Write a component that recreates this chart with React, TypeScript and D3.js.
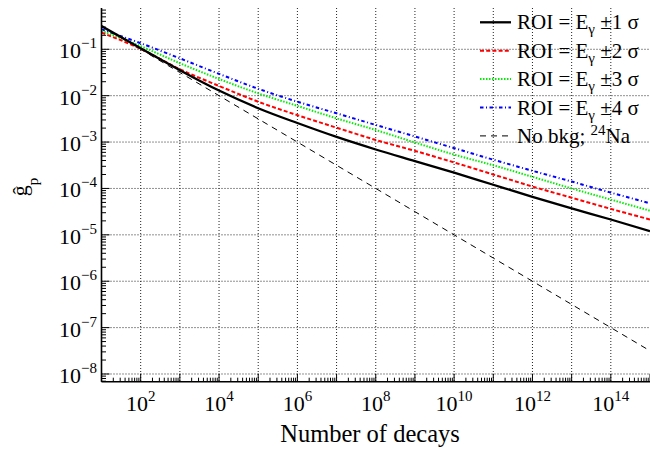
import { useEffect, useRef } from "react";
import * as d3 from "d3";

// number of decays, one point per decade
const decays = [1e1, 1e2, 1e3, 1e4, 1e5, 1e6, 1e7, 1e8, 1e9, 1e10, 1e11, 1e12, 1e13, 1e14, 1e15];

// g_p
const roi1 = [3.16e-1, 1.05e-1, 3.55e-2, 1.29e-2, 5.37e-3, 2.57e-3, 1.29e-3, 6.92e-4, 3.89e-4, 2.19e-4, 1.2e-4, 6.61e-5, 3.72e-5, 2.14e-5, 1.2e-5];
const roi2 = [2.29e-1, 1.02e-1, 3.72e-2, 1.62e-2, 7.41e-3, 3.8e-3, 2.04e-3, 1.11e-3, 6.46e-4, 3.63e-4, 2.0e-4, 1.1e-4, 6.31e-5, 3.63e-5, 2.14e-5];
const roi3 = [2.51e-1, 1.17e-1, 5.01e-2, 2.29e-2, 1.12e-2, 6.03e-3, 3.24e-3, 1.82e-3, 9.77e-4, 5.37e-4, 3.16e-4, 1.78e-4, 1.0e-4, 5.75e-5, 3.31e-5];
const roi4 = [2.69e-1, 1.35e-1, 6.38e-2, 2.95e-2, 1.41e-2, 7.41e-3, 4.17e-3, 2.34e-3, 1.32e-3, 7.41e-4, 4.17e-4, 2.4e-4, 1.41e-4, 8.13e-5, 4.79e-5];
const noBkg = [3.16e-1, 1e-1, 3.16e-2, 1e-2, 3.16e-3, 1e-3, 3.16e-4, 1e-4, 3.16e-5, 1e-5, 3.16e-6, 1e-6, 3.16e-7, 1e-7, 3.16e-8];

const xLabelExps = [2, 4, 6, 8, 10, 12, 14];
const yLabelExps = [-1, -2, -3, -4, -5, -6, -7, -8];
const sigmas = ["1", "2", "3", "4"];

const W = 650;
const H = 449;
const left = 101.5;
const right = 650;
const top = 8;
const bottom = 381.7;
const FONT = '"Liberation Serif", "Tinos", "DejaVu Serif", "Noto Serif", serif';

const series = [
  { values: roi1, color: "#000000", width: 2.3, dash: "" },
  { values: roi2, color: "#ff0000", width: 2, dash: "4,2.2" },
  { values: roi3, color: "#00ee00", width: 2, dash: "1.5,1.5" },
  { values: roi4, color: "#0000ff", width: 2, dash: "3.5,2.5,1,2.5" },
  { values: noBkg, color: "#000000", width: 1, dash: "6,5" },
];

const App = () => {
  const ref = useRef<SVGSVGElement>(null);

  useEffect(() => {
    const svg = d3.select(ref.current);
    svg.selectAll("*").remove();

    const x = d3.scaleLog().domain([10, 1e15]).range([left, right]);
    const y = d3.scaleLog().domain([Math.pow(10, -8.166), Math.pow(10, -0.11)]).range([bottom, top]);

    svg.append("clipPath").attr("id", "plot-clip")
      .append("rect")
      .attr("x", left).attr("y", top)
      .attr("width", right - left).attr("height", bottom - top);

    // grid
    const grid = svg.append("g")
      .attr("stroke", "#222")
      .attr("stroke-width", 1)
      .attr("stroke-dasharray", "1,2");
    for (let k = 2; k <= 14; k++) {
      grid.append("line")
        .attr("x1", x(Math.pow(10, k))).attr("x2", x(Math.pow(10, k)))
        .attr("y1", top).attr("y2", bottom);
    }
    for (let k = -8; k <= -1; k++) {
      grid.append("line")
        .attr("x1", left).attr("x2", right)
        .attr("y1", y(Math.pow(10, k))).attr("y2", y(Math.pow(10, k)));
    }

    // curves
    const line = d3.line<number>()
      .x((_, i) => x(decays[i]))
      .y((d) => y(d))
      .curve(d3.curveMonotoneX);

    const curves = svg.append("g").attr("clip-path", "url(#plot-clip)");
    series.slice().reverse().forEach((s) => {
      curves.append("path")
        .attr("d", line(s.values))
        .attr("fill", "none")
        .attr("stroke", s.color)
        .attr("stroke-width", s.width)
        .attr("stroke-dasharray", s.dash || null);
    });

    // axes
    const axes = svg.append("g").attr("stroke", "#000");
    axes.append("line").attr("x1", left).attr("x2", left).attr("y1", top).attr("y2", bottom).attr("stroke-width", 1.6);
    axes.append("line").attr("x1", left).attr("x2", right).attr("y1", bottom).attr("y2", bottom).attr("stroke-width", 1.6);

    for (let k = 1; k <= 15; k++) {
      const xv = x(Math.pow(10, k));
      axes.append("line").attr("x1", xv).attr("x2", xv).attr("y1", bottom).attr("y2", bottom - 8).attr("stroke-width", 1);
      for (let m = 2; m <= 9 && k < 15; m++) {
        const xm = x(m * Math.pow(10, k));
        axes.append("line").attr("x1", xm).attr("x2", xm).attr("y1", bottom).attr("y2", bottom - 4).attr("stroke-width", 1);
      }
    }
    const [y0, y1] = y.domain();
    for (let k = -9; k <= -1; k++) {
      const p = Math.pow(10, k);
      if (p >= y0 && p <= y1) {
        axes.append("line").attr("x1", left).attr("x2", left + 8).attr("y1", y(p)).attr("y2", y(p)).attr("stroke-width", 1);
      }
      for (let m = 2; m <= 9; m++) {
        const v = m * p;
        if (v < y0 || v > y1) continue;
        axes.append("line").attr("x1", left).attr("x2", left + 4.5).attr("y1", y(v)).attr("y2", y(v)).attr("stroke-width", 1);
      }
    }

    // tick labels
    const labels = svg.append("g").attr("fill", "#000");
    xLabelExps.forEach((e) => {
      const t = labels.append("text")
        .style("font-family", FONT)
        .attr("x", x(Math.pow(10, e)))
        .attr("y", 411)
        .attr("text-anchor", "middle")
        .attr("font-size", 22);
      t.append("tspan").text("10");
      t.append("tspan").attr("dy", -10).attr("font-size", 15).text(String(e));
    });
    yLabelExps.forEach((e) => {
      const t = labels.append("text")
        .style("font-family", FONT)
        .attr("x", 97)
        .attr("y", y(Math.pow(10, e)) + 9)
        .attr("text-anchor", "end")
        .attr("font-size", 22);
      t.append("tspan").text("10");
      t.append("tspan").attr("dy", -10).attr("font-size", 15).text("\u2212" + Math.abs(e));
    });

    // axis titles
    labels.append("text")
      .style("font-family", FONT)
      .attr("x", 370).attr("y", 442)
      .attr("text-anchor", "middle")
      .attr("font-size", 24.5)
      .text("Number of decays");

    const yt = labels.append("text")
      .style("font-family", FONT)
      .attr("transform", "translate(27,187) rotate(-90)")
      .attr("text-anchor", "middle")
      .attr("font-size", 22);
    yt.append("tspan").text("\u011d");
    yt.append("tspan").attr("dy", 11).attr("font-size", 15).text("p");

    // legend
    const legend = svg.append("g").attr("font-size", 21);
    series.forEach((s, i) => {
      const ly = 22.3 + i * 28.4;
      legend.append("line")
        .attr("x1", 480).attr("x2", 511)
        .attr("y1", ly).attr("y2", ly)
        .attr("stroke", s.color)
        .attr("stroke-width", s.width)
        .attr("stroke-dasharray", s.dash || null);
      const t = legend.append("text").style("font-family", FONT).attr("x", 517).attr("y", ly + 7);
      if (i < sigmas.length) {
        t.append("tspan").text("ROI = E");
        t.append("tspan").attr("dy", 5).attr("font-size", 15).text("\u03b3");
        t.append("tspan").attr("dy", -5).text(" \u00b1" + sigmas[i] + " \u03c3");
      } else {
        t.append("tspan").text("No bkg; ");
        t.append("tspan").attr("dy", -8).attr("font-size", 15).text("24");
        t.append("tspan").attr("dy", 8).text("Na");
      }
    });
  }, []);

  return (
    <svg
      ref={ref}
      width={W}
      height={H}
      style={{ position: "absolute", left: 0, top: 0, background: "#fff" }}
    ></svg>
  );
};

export default App;
